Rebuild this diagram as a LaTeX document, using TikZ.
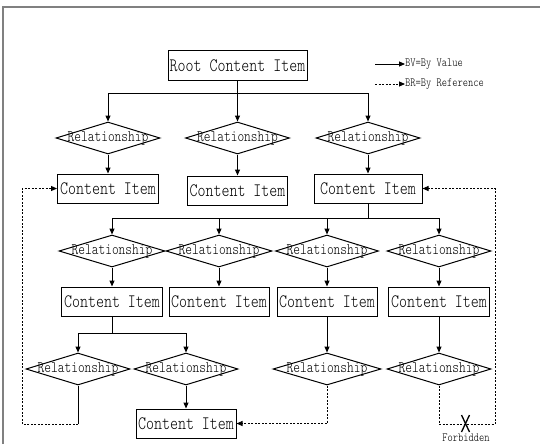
\documentclass[tikz,border=0pt]{standalone}
\usepackage{fontspec}
\setmonofont{lmmonolt10-regular.otf}[FakeStretch=0.8]
\usetikzlibrary{shapes.geometric,arrows.meta}
\tikzset{
    every node/.style={inner sep=0pt},
    item/.style={rectangle, draw, line width=1pt, minimum width=101pt, minimum height=29pt,
        font=\ttfamily\fontsize{19}{19}\selectfont},
    rel/.style={diamond, draw, line width=1pt, minimum width=104pt, minimum height=32pt,
        font=\ttfamily\fontsize{16}{16}\selectfont},
    small/.style={font=\ttfamily\fontsize{12.5}{12.5}\selectfont},
    link/.style={line width=1pt, -{Triangle[length=6pt,width=5pt]}},
    byref/.style={link, dash pattern=on 2pt off 1.5pt}
}
\newcommand{\relname}{\makebox[0pt]{Relationship}}

\begin{document}
\begin{tikzpicture}[x=1pt, y=-1pt]
    \useasboundingbox (0,0) rectangle (540,444);
    \draw [gray, line width=2pt] (3,444) -- (3,7) -- (540,7);

    \node (root) [item, minimum width=139pt] at (237.5, 65.5) {Root Content Item};

    \node (r1) [rel] at (108, 138) {\relname};
    \node (r2) [rel] at (237.5, 138) {\relname};
    \node (r3) [rel] at (368, 138) {\relname};
    \node (c1) [item] at (108, 188.5) {Content Item};
    \node (c2) [item, minimum width=100pt] at (237.5, 190.5) {Content Item};
    \node (c3) [item, minimum width=108pt] at (368, 188.5) {Content Item};

    \node (r4) [rel, minimum width=106pt] at (112, 251) {\relname};
    \node (r5) [rel, minimum width=106pt] at (219, 251) {\relname};
    \node (r6) [rel, minimum width=103pt] at (327, 251) {\relname};
    \node (r7) [rel] at (439, 251) {\relname};
    \node (c4) [item] at (112, 301.5) {Content Item};
    \node (c5) [item, minimum width=100pt] at (219, 301.5) {Content Item};
    \node (c6) [item, minimum width=100pt] at (327, 301.5) {Content Item};
    \node (c7) [item] at (439, 301.5) {Content Item};

    \node (r8) [rel] at (78, 369) {\relname};
    \node (r9) [rel] at (186, 369) {\relname};
    \node (r10) [rel, minimum width=108pt] at (327, 369) {\relname};
    \node (r11) [rel] at (439, 369) {\relname};
    \node (c8) [item, minimum width=100pt] at (186, 423.5) {Content Item};

    % legend
    \coordinate (bv) at (375, 64);
    \coordinate (br) at (375, 84);
    \node (bvt) [small, anchor=west] at (405, 64) {BV=By Value};
    \node (brt) [small, anchor=west] at (405, 84) {BR=By Reference};
    \draw [link] (bv) -- (bvt);
    \draw [byref] (br) -- (brt);

    % by value
    \coordinate (j0) at (237.5, 93);
    \coordinate (j1) at (368, 218);
    \coordinate (j2) at (112, 333);
    \draw [line width=1pt] (root) -- (j0);
    \draw [link] (j0) -| (r1);
    \draw [link] (j0) -- (r2);
    \draw [link] (j0) -| (r3);
    \draw [link] (r1) -- (c1);
    \draw [link] (r2) -- (c2);
    \draw [link] (r3) -- (c3);

    \draw [line width=1pt] (c3) -- (j1);
    \draw [link] (j1) -| (r4);
    \draw [link] (j1) -| (r5);
    \draw [link] (j1) -| (r6);
    \draw [link] (j1) -| (r7);
    \draw [link] (r4) -- (c4);
    \draw [link] (r5) -- (c5);
    \draw [link] (r6) -- (c6);
    \draw [link] (r7) -- (c7);

    \draw [line width=1pt] (c4) -- (j2);
    \draw [link] (j2) -| (r8);
    \draw [link] (j2) -| (r9);
    \draw [link] (c6) -- (r10);
    \draw [link] (c7) -- (r11);
    \draw [link] (r9) -- (c8);

    % by reference
    \coordinate (k1) at (78, 424);
    \coordinate (k2) at (22, 424);
    \coordinate (k3) at (495, 424);
    \draw [line width=1pt] (r8) -- (k1);
    \draw [byref] (k1) -- (k2) |- (c1);
    \draw [byref] (r10) |- (c8);
    \draw [byref] (r11) |- (k3) |- (c3);

    % forbidden
    \coordinate (fb) at (465.5, 424);
    \draw [line width=1.3pt] ([shift={(-4,-9)}]fb) -- ([shift={(4,8)}]fb);
    \draw [line width=1.3pt] ([shift={(4,-9)}]fb) -- ([shift={(-4,8)}]fb);
    \node (fbt) [small] at (466, 438) {Forbidden};
\end{tikzpicture}
\end{document}
